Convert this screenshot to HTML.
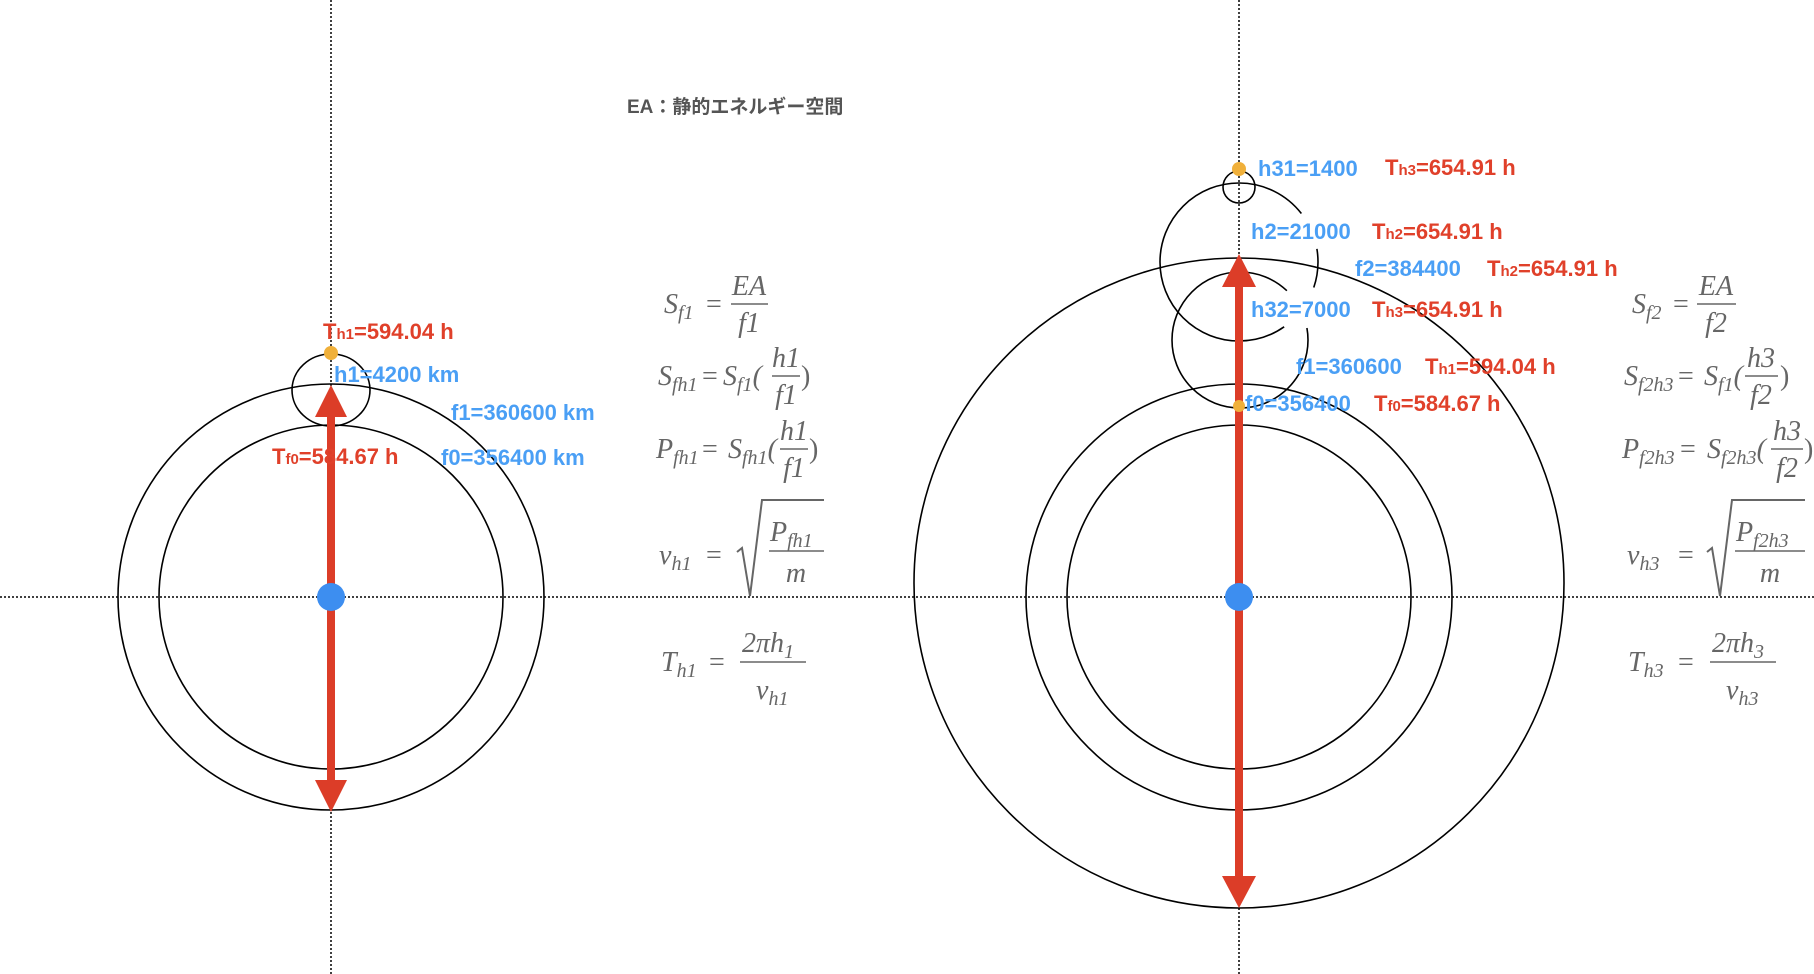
<!DOCTYPE html>
<html><head><meta charset="utf-8"><style>
html,body{margin:0;padding:0;background:#fff;}
svg{display:block;}
.lb{font-family:"Liberation Sans",sans-serif;font-weight:bold;font-size:22px;}
.r{fill:#e0402a;}
.b{fill:#4a9ff5;}
.m{font-family:"Liberation Serif",serif;font-style:italic;fill:#666;font-size:28px;}
.n{font-family:"Liberation Serif",serif;fill:#666;font-size:28px;}
.s{font-size:20px;}
</style></head><body>
<svg width="1814" height="974" viewBox="0 0 1814 974" xmlns="http://www.w3.org/2000/svg">
<g stroke="#000" stroke-width="1.5" stroke-dasharray="2,2" fill="none">
<line x1="0" y1="597" x2="1814" y2="597"/>
<line x1="331" y1="0" x2="331" y2="974"/>
<line x1="1239" y1="0" x2="1239" y2="974"/>
</g>
<g stroke="#000" stroke-width="1.6" fill="none">
<circle cx="331" cy="597" r="213"/>
<circle cx="331" cy="597" r="172"/>
<ellipse cx="331" cy="390" rx="39" ry="36"/>
<circle cx="1239" cy="583" r="325"/>
<circle cx="1239" cy="597" r="213"/>
<circle cx="1239" cy="597" r="172"/>
<circle cx="1239" cy="187" r="16"/>
<circle cx="1239" cy="262" r="79" stroke-dasharray="26,50,368,39,14,0"/>
<circle cx="1240" cy="340" r="68" stroke-dasharray="372,43,13,0"/>
</g>
<text x="627" y="113" font-family="Liberation Sans,'Noto Sans CJK JP',sans-serif" font-weight="bold" font-size="19" fill="#555">EA：静的エネルギー空間</text>
<g fill="#dc3d28" stroke="#dc3d28">
<line x1="331" y1="410" x2="331" y2="790" stroke-width="8"/>
<polygon points="331,385 315,417 347,417" stroke="none"/>
<polygon points="331,812 315,780 347,780" stroke="none"/>
<line x1="1239" y1="280" x2="1239" y2="885" stroke-width="8"/>
<polygon points="1239,254 1222,287 1256,287" stroke="none"/>
<polygon points="1239,908 1222,876 1256,876" stroke="none"/>
</g>
<circle cx="331" cy="597" r="14" fill="#3d8ef0"/>
<circle cx="1239" cy="597" r="14" fill="#3d8ef0"/>
<circle cx="331" cy="353" r="7" fill="#f0b03a"/>
<circle cx="1239" cy="169" r="7" fill="#f0b03a"/>
<circle cx="1239" cy="406" r="6" fill="#f0b03a"/>
<text class="lb r" x="323" y="339">T<tspan font-size="15">h1</tspan>=594.04 h</text>
<text class="lb b" x="334" y="382">h1=4200 km</text>
<text class="lb b" x="451" y="420">f1=360600 km</text>
<text class="lb r" x="272" y="464">T<tspan font-size="15">f0</tspan>=584.67 h</text>
<text class="lb b" x="441" y="465">f0=356400 km</text>
<text class="lb b" x="1258" y="176">h31=1400</text>
<text class="lb r" x="1385" y="175">T<tspan font-size="15">h3</tspan>=654.91 h</text>
<text class="lb b" x="1251" y="239">h2=21000</text>
<text class="lb r" x="1372" y="239">T<tspan font-size="15">h2</tspan>=654.91 h</text>
<text class="lb b" x="1355" y="276">f2=384400</text>
<text class="lb r" x="1487" y="276">T<tspan font-size="15">h2</tspan>=654.91 h</text>
<text class="lb b" x="1251" y="317">h32=7000</text>
<text class="lb r" x="1372" y="317">T<tspan font-size="15">h3</tspan>=654.91 h</text>
<text class="lb b" x="1296" y="374">f1=360600</text>
<text class="lb r" x="1425" y="374">T<tspan font-size="15">h1</tspan>=594.04 h</text>
<text class="lb b" x="1245" y="411">f0=356400</text>
<text class="lb r" x="1374" y="411">T<tspan font-size="15">f0</tspan>=584.67 h</text>
<g stroke="#666" stroke-width="1.5">
<line x1="731" y1="304" x2="768" y2="304"/>
<line x1="772" y1="376" x2="800" y2="376"/>
<line x1="780" y1="449" x2="808" y2="449"/>
<line x1="769" y1="551" x2="824" y2="551"/>
<line x1="740" y1="662" x2="806" y2="662"/>
<polyline points="737,552 742,548 750,596 762,500 824,500" fill="none" stroke-width="2"/>
<line x1="1697" y1="304" x2="1736" y2="304"/>
<line x1="1745" y1="376" x2="1778" y2="376"/>
<line x1="1771" y1="449" x2="1803" y2="449"/>
<line x1="1735" y1="551" x2="1805" y2="551"/>
<line x1="1710" y1="662" x2="1776" y2="662"/>
<polyline points="1707,552 1712,548 1720,596 1732,500 1805,500" fill="none" stroke-width="2"/>
</g>
<text class="m" x="664" y="313">S<tspan class="s" dy="6">f1</tspan></text>
<text class="n" x="706" y="313">=</text>
<text class="m" x="749" y="295" text-anchor="middle">EA</text>
<text class="m" x="749" y="332" text-anchor="middle">f1</text>

<text class="m" x="658" y="385">S<tspan class="s" dy="6">fh1</tspan></text>
<text class="n" x="702" y="385">=</text>
<text class="m" x="723" y="385">S<tspan class="s" dy="6">f1</tspan><tspan class="n" dy="-6">(</tspan></text>
<text class="m" x="786" y="367" text-anchor="middle">h1</text>
<text class="m" x="786" y="404" text-anchor="middle">f1</text>
<text class="n" x="801" y="385">)</text>

<text class="m" x="656" y="458">P<tspan class="s" dy="6">fh1</tspan></text>
<text class="n" x="702" y="458">=</text>
<text class="m" x="728" y="458">S<tspan class="s" dy="6">fh1</tspan><tspan class="n" dy="-6">(</tspan></text>
<text class="m" x="794" y="440" text-anchor="middle">h1</text>
<text class="m" x="794" y="477" text-anchor="middle">f1</text>
<text class="n" x="809" y="458">)</text>

<text class="m" x="659" y="564">v<tspan class="s" dy="6">h1</tspan></text>
<text class="n" x="706" y="564">=</text>
<text class="m" x="770" y="541">P<tspan class="s" dy="6">fh1</tspan></text>
<text class="m" x="796" y="582" text-anchor="middle">m</text>

<text class="m" x="661" y="671">T<tspan class="s" dy="6">h1</tspan></text>
<text class="n" x="709" y="671">=</text>
<text class="m" x="742" y="652">2πh<tspan class="s" dy="6">1</tspan></text>
<text class="m" x="756" y="699">v<tspan class="s" dy="6">h1</tspan></text>

<text class="m" x="1632" y="313">S<tspan class="s" dy="6">f2</tspan></text>
<text class="n" x="1673" y="313">=</text>
<text class="m" x="1716" y="295" text-anchor="middle">EA</text>
<text class="m" x="1716" y="332" text-anchor="middle">f2</text>

<text class="m" x="1624" y="385">S<tspan class="s" dy="6">f2h3</tspan></text>
<text class="n" x="1678" y="385">=</text>
<text class="m" x="1704" y="385">S<tspan class="s" dy="6">f1</tspan><tspan class="n" dy="-6">(</tspan></text>
<text class="m" x="1761" y="367" text-anchor="middle">h3</text>
<text class="m" x="1761" y="404" text-anchor="middle">f2</text>
<text class="n" x="1780" y="385">)</text>

<text class="m" x="1622" y="458">P<tspan class="s" dy="6">f2h3</tspan></text>
<text class="n" x="1680" y="458">=</text>
<text class="m" x="1707" y="458">S<tspan class="s" dy="6">f2h3</tspan><tspan class="n" dy="-6">(</tspan></text>
<text class="m" x="1787" y="440" text-anchor="middle">h3</text>
<text class="m" x="1787" y="477" text-anchor="middle">f2</text>
<text class="n" x="1804" y="458">)</text>

<text class="m" x="1627" y="564">v<tspan class="s" dy="6">h3</tspan></text>
<text class="n" x="1678" y="564">=</text>
<text class="m" x="1736" y="541">P<tspan class="s" dy="6">f2h3</tspan></text>
<text class="m" x="1770" y="582" text-anchor="middle">m</text>

<text class="m" x="1628" y="671">T<tspan class="s" dy="6">h3</tspan></text>
<text class="n" x="1678" y="671">=</text>
<text class="m" x="1712" y="652">2πh<tspan class="s" dy="6">3</tspan></text>
<text class="m" x="1726" y="699">v<tspan class="s" dy="6">h3</tspan></text>
</svg>
</body></html>
